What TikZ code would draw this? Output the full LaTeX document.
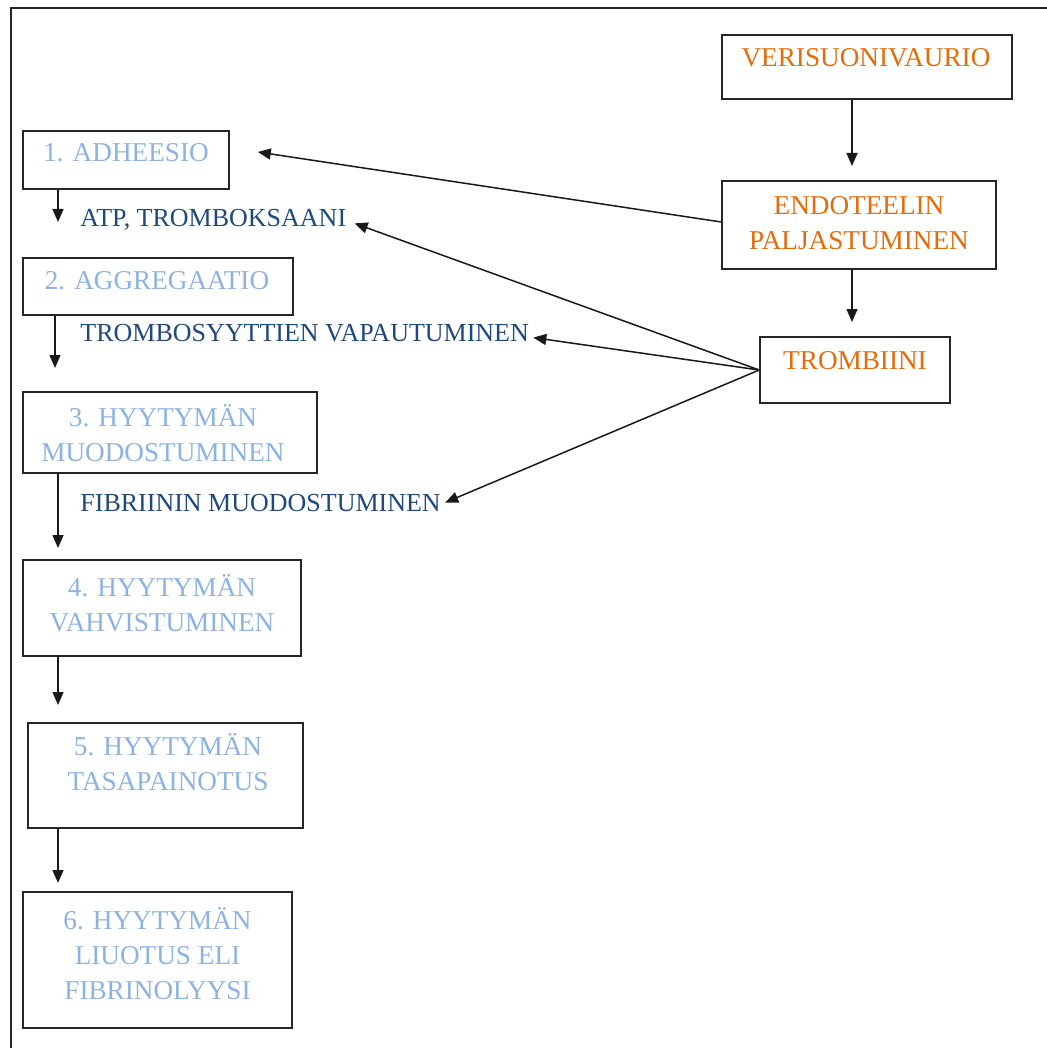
\documentclass[tikz,border=0pt]{standalone}
\usepackage{fontspec}
\setmainfont{Liberation Serif}
\usetikzlibrary{arrows.meta,calc}
\definecolor{orng}{HTML}{E46C0A}
\definecolor{lblue}{HTML}{8DB3E2}
\definecolor{dblue}{HTML}{1F497D}
\begin{document}
\begin{tikzpicture}[x=0.5pt,y=-0.5pt,
  boxshape/.style={draw=black!85,line width=0.8pt,inner sep=0pt,rectangle},
  btext/.style={font=\fontsize{13.6}{17.5}\selectfont,align=center,inner sep=0pt},
  bluetext/.style={btext,text=lblue},
  orngtext/.style={btext,text=orng},
  lbl/.style={font=\fontsize{13}{17.5}\selectfont,text=dblue,inner sep=0pt,anchor=base west},
  arr/.style={draw=black!90,line width=0.75pt,-{Triangle[length=6.5pt,width=5.5pt]}}
]
\useasboundingbox (0,0) rectangle (1046,1048);
\fill[white] (0,0) rectangle (1046,1048);
% outer frame
\draw[line width=0.9pt,black!85] (11,1060) -- (11,8) -- (1060,8);

% right column boxes
\node[boxshape,minimum width=145pt,minimum height=32pt] (ver) at (867,67) {};
\node[orngtext] (vert) at (866,58) {VERISUONIVAURIO};
\node[boxshape,minimum width=137pt,minimum height=44pt] (endo) at (859,225) {};
\node[orngtext] (endot) at (859,223.5) {ENDOTEELIN\\PALJASTUMINEN};
\node[boxshape,minimum width=95pt,minimum height=33pt] (trom) at (855,370) {};
\node[orngtext] (tromt) at (855,361) {TROMBIINI};

% left column boxes
\node[boxshape,minimum width=103pt,minimum height=29pt] (b1) at (126,160) {};
\node[bluetext] (b1t) at (126,153) {1. ADHEESIO};
\node[boxshape,minimum width=135pt,minimum height=28.5pt] (b2) at (158,286.5) {};
\node[bluetext] (b2t) at (157,281) {2. AGGREGAATIO};
\node[boxshape,minimum width=147pt,minimum height=40.5pt] (b3) at (170,432.5) {};
\node[bluetext] (b3t) at (163,433) {3. HYYTYMÄN\\MUODOSTUMINEN};
\node[boxshape,minimum width=139pt,minimum height=48pt] (b4) at (162,608) {};
\node[bluetext] (b4t) at (162,603.5) {4. HYYTYMÄN\\VAHVISTUMINEN};
\node[boxshape,minimum width=137.5pt,minimum height=52.5pt] (b5) at (165.5,775.5) {};
\node[bluetext] (b5t) at (168,762.5) {5. HYYTYMÄN\\TASAPAINOTUS};
\node[boxshape,minimum width=134.5pt,minimum height=68pt] (b6) at (157.5,960) {};
\node[bluetext] (b6t) at (157.5,954) {6. HYYTYMÄN\\LIUOTUS ELI\\FIBRINOLYYSI};

% labels
\node[lbl] (atp) at (80,227) {ATP, TROMBOKSAANI};
\node[lbl] (vap) at (80,341) {TROMBOSYYTTIEN VAPAUTUMINEN};
\node[lbl] (fib) at (80,511) {FIBRIININ MUODOSTUMINEN};

% free arrow ends
\coordinate (c1) at (852,166);
\coordinate (c2) at (852,322);
\coordinate (d1) at (58,222);
\coordinate (d2) at (55,368);
\coordinate (d3) at (58,548);
\coordinate (d4) at (58,705);
\coordinate (d5) at (58,883);

% right column arrows
\draw[arr] (ver.south -| c1) -- (c1);
\draw[arr] (endo.south -| c2) -- (c2);

% left column arrows
\draw[arr] (b1.south -| d1) -- (d1);
\draw[arr] (b2.south -| d2) -- (d2);
\draw[arr] (b3.south -| d3) -- (d3);
\draw[arr] (b4.south -| d4) -- (d4);
\draw[arr] (b5.south -| d5) -- (d5);

% cross arrows
\draw[arr] ($(endo.west)+(0,-3)$) -- ($(b1.east)+(28,-8)$);
\draw[arr] (trom.west) -- ($(atp.east)+(8,3)$);
\draw[arr] (trom.west) -- ($(vap.east)+(4,5)$);
\draw[arr] (trom.west) -- ($(fib.east)+(4,0)$);
\end{tikzpicture}
\end{document}
